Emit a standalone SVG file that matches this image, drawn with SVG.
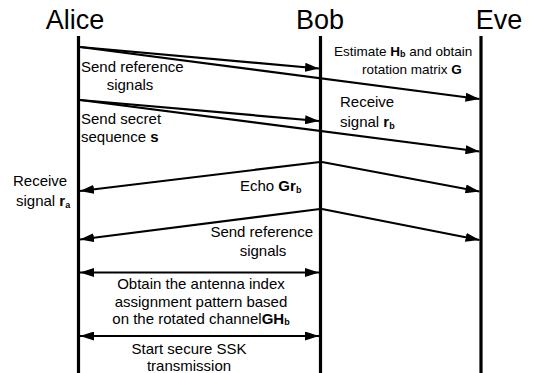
<svg xmlns="http://www.w3.org/2000/svg" width="543" height="373" viewBox="0 0 543 373">
<style>
text{font-family:"Liberation Sans",Arial,Helvetica,sans-serif;fill:#000;}
.title{font-size:27px;}
.lbl{font-size:15px;}
.sm{font-size:13.5px;}
.b{font-weight:bold;}
.life{stroke:#000;stroke-width:3.2;fill:none;}
.msg{stroke:#000;stroke-width:2.2;fill:none;marker-end:url(#ah);}
.dbl{stroke:#000;stroke-width:2.2;fill:none;marker-end:url(#ah);marker-start:url(#ah);}
</style>
<defs>
<marker id="ah" markerUnits="userSpaceOnUse" markerWidth="14" markerHeight="9" refX="14" refY="4.5" orient="auto-start-reverse" viewBox="0 0 14 9">
<path d="M0,0 L14,4.5 L0,9 z" fill="#000"/>
</marker>
</defs>
<g id="alice">
<text class="title" x="75" y="29" text-anchor="middle">Alice</text>
<line class="life" x1="78.5" y1="36" x2="78.5" y2="373"/>
</g>
<g id="bob">
<text class="title" x="320" y="29" text-anchor="middle">Bob</text>
<line class="life" x1="320.5" y1="36" x2="320.5" y2="373"/>
</g>
<g id="eve">
<text class="title" x="499" y="29" text-anchor="middle">Eve</text>
<line class="life" x1="481" y1="36" x2="481" y2="373"/>
</g>
<g id="connectors">
<line class="msg" x1="80" y1="47" x2="319" y2="68.5"/>
<line class="msg" x1="80" y1="47" x2="479.5" y2="99"/>
<line class="msg" x1="80" y1="100" x2="319" y2="121"/>
<line class="msg" x1="80" y1="100" x2="479.5" y2="151.5"/>
<line class="msg" x1="320" y1="162" x2="80" y2="191"/>
<line class="msg" x1="322" y1="162" x2="479.5" y2="191.5"/>
<line class="msg" x1="320" y1="209" x2="80" y2="239.5"/>
<line class="msg" x1="322" y1="209" x2="479.5" y2="240"/>
<line class="dbl" x1="80" y1="272.5" x2="319" y2="272.5"/>
<line class="dbl" x1="80" y1="336" x2="319" y2="336"/>
</g>
<g id="labels">
<text class="lbl" x="81" y="72">Send reference</text>
<text class="lbl" x="130" y="90" text-anchor="middle">signals</text>
<text class="lbl" x="81" y="124">Send secret</text>
<text class="lbl" x="81" y="142">sequence <tspan class="b">s</tspan></text>
<text class="lbl" x="13" y="186">Receive</text>
<text class="lbl" x="16" y="206">signal <tspan class="b">r</tspan><tspan class="b" font-size="9" dy="2">a</tspan></text>
<text class="sm" x="334" y="56">Estimate <tspan class="b">H</tspan><tspan class="b" font-size="9" dy="1">b</tspan><tspan dy="-1"> and obtain</tspan></text>
<text class="sm" x="362" y="74">rotation matrix <tspan class="b">G</tspan></text>
<text class="lbl" x="340" y="107">Receive</text>
<text class="lbl" x="340" y="127">signal <tspan class="b">r</tspan><tspan class="b" font-size="9" dy="2">b</tspan></text>
<text class="lbl" x="240" y="191">Echo <tspan class="b">Gr</tspan><tspan class="b" font-size="9" dy="2">b</tspan></text>
<text class="lbl" x="313" y="237" text-anchor="end">Send reference</text>
<text class="lbl" x="263" y="256" text-anchor="middle">signals</text>
<text class="lbl" x="201" y="289" text-anchor="middle">Obtain the antenna index</text>
<text class="lbl" x="201" y="307" text-anchor="middle">assignment pattern based</text>
<text class="lbl" x="201" y="324" text-anchor="middle">on the rotated channel<tspan class="b">GH</tspan><tspan class="b" font-size="9" dy="1">b</tspan></text>
<text class="lbl" x="189" y="354" text-anchor="middle">Start secure SSK</text>
<text class="lbl" x="189" y="371" text-anchor="middle">transmission</text>
</g>
</svg>
